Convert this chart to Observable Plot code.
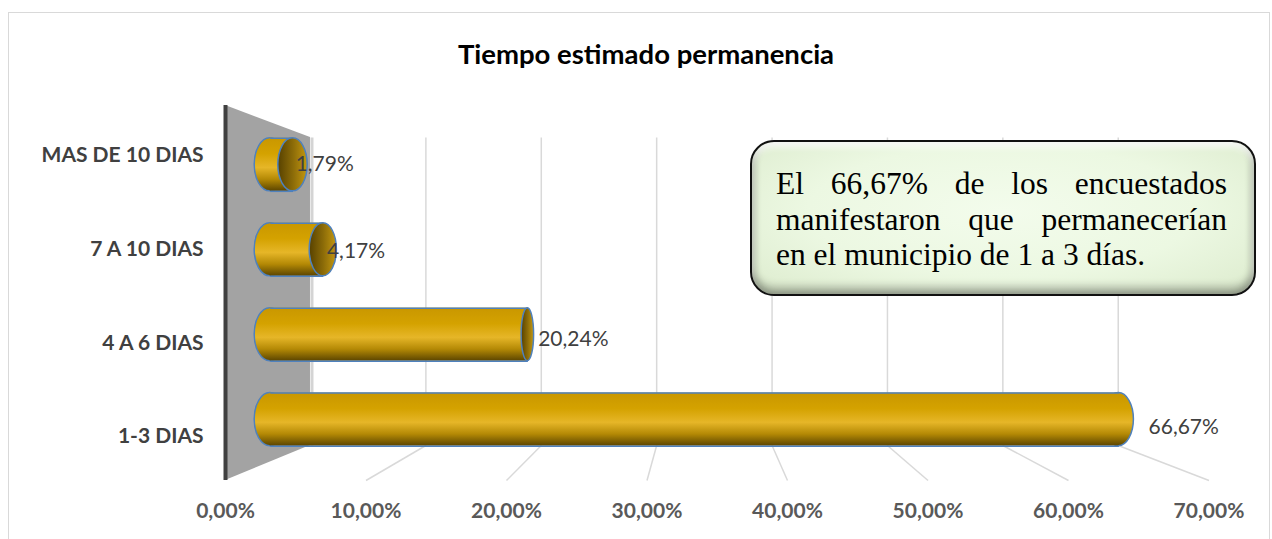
<!DOCTYPE html>
<html>
<head>
<meta charset="utf-8">
<script src="https://cdn.jsdelivr.net/npm/d3@7"></script>
<script src="https://cdn.jsdelivr.net/npm/@observablehq/plot@0.6"></script>
<style>
  body { margin: 0; background: #fff; }
  #wrap { position: relative; width: 1272px; height: 539px; overflow: hidden; font-family: Lato, "Open Sans", sans-serif; }
  #frame { position: absolute; left: 8px; top: 12px; width: 1262px; height: 560px; border: 1px solid #D9D9D9; box-sizing: border-box; }
  #chart { position: absolute; left: 0; top: 0; }
  #title { position: absolute; left: 0; top: 37px; width: 1292px; text-align: center; font-weight: bold; font-size: 27.5px; line-height: 34px; color: #000; }
  #note { position: absolute; left: 750px; top: 140px; width: 506px; height: 156px; box-sizing: border-box;
          border: 2.5px solid #111; border-radius: 24px;
          background: radial-gradient(ellipse at 50% 45%, #F3FCEC 0%, #ECF8E2 55%, #DCEBCD 100%);
          box-shadow: inset 0 -7px 9px rgba(0,0,0,0.28), inset 0 5px 6px rgba(255,255,255,0.9), inset 4px 0 6px rgba(0,0,0,0.12), inset -4px 0 6px rgba(0,0,0,0.12);
          padding: 24px 27px 0 24px;
          font-family: "Liberation Serif", "Times New Roman", serif; font-size: 31.5px; line-height: 35.5px; color: #000; }
  #note .j { text-align: justify; text-align-last: justify; }
  #chart text { font-family: Lato, "Open Sans", sans-serif; }
  g[aria-label="x-axis tick label"] text, g[aria-label="y-axis tick label"] text { font-weight: bold; }
</style>
</head>
<body>
<svg width="0" height="0" style="position:absolute">
  <defs>
    <linearGradient id="bodyGrad" x1="0" y1="0" x2="0" y2="1">
      <stop offset="0" stop-color="#C99700"/>
      <stop offset="0.3" stop-color="#D4A200"/>
      <stop offset="0.56" stop-color="#E6B628"/>
      <stop offset="0.78" stop-color="#B48905"/>
      <stop offset="1" stop-color="#5C4500"/>
    </linearGradient>
    <linearGradient id="capGrad" x1="0" y1="0" x2="1" y2="0">
      <stop offset="0" stop-color="#574100"/>
      <stop offset="0.5" stop-color="#8A6A08"/>
      <stop offset="1" stop-color="#C49810"/>
    </linearGradient>
  </defs>
</svg>
<div id="wrap">
  <div id="frame"></div>
  <div id="chart"></div>
  <div id="title">Tiempo estimado permanencia</div>
  <div id="note">
    <div class="j">El 66,67% de los encuestados</div>
    <div class="j">manifestaron que permanecerían</div>
    <div>en el municipio de 1 a 3 días.</div>
  </div>
</div>
<script>
// ---- data ----
const categories = ["1-3 DIAS", "4 A 6 DIAS", "7 A 10 DIAS", "MAS DE 10 DIAS"];
const values = [66.67, 20.24, 4.17, 1.79];
const valueLabels = ["66,67%", "20,24%", "4,17%", "1,79%"];
const xTicks = [0, 10, 20, 30, 40, 50, 60, 70];
const xTickLabels = ["0,00%", "10,00%", "20,00%", "30,00%", "40,00%", "50,00%", "60,00%", "70,00%"];

// ---- 3D perspective helpers (data units of the front plane) ----
const VX = 33.85, VY = 2.09;          // vanishing point
const S_BACK = 0.8213, S_BAR = 0.906, S_LABEL = 0.9356;
const px = (v, s) => VX + s * (v - VX);
const py = (v, s) => VY + s * (v - VY);
const HALF = 0.283;                   // half thickness of a cylinder (y units)
const CAP = 0.036;                    // ellipse width ratio of the cylinder ends
const Y_MAX = categories.length;

const rows = categories.map((c, i) => {
  const x0 = px(0, S_BAR), xe = px(values[i], S_BAR), yc = py(i + 0.5, S_BAR);
  return {cat: c, i, v: values[i], label: valueLabels[i], x0, xe, yc,
          endR: CAP * (VX - x0), capR: CAP * (VX - xe)};
});
const capped = rows.filter(d => d.capR > 0);
const convex = rows.filter(d => d.capR <= 0);
const gridTicks = xTicks.filter(t => t > 0);
const blue = "#4F81BD";

const plot = Plot.plot({
  width: 1272,
  height: 539,
  marginLeft: 225,
  marginRight: 63.5,
  marginTop: 105,
  marginBottom: 59,
  x: {domain: [0, 70]},
  y: {domain: [0, Y_MAX]},
  style: {background: "transparent", fontFamily: "Lato, 'Open Sans', sans-serif", fontSize: "21px", overflow: "visible"},
  marks: [
    // side wall
    Plot.areaY([{x: 0, y1: 0, y2: Y_MAX}, {x: px(0, S_BACK), y1: py(0, S_BACK), y2: py(Y_MAX, S_BACK)}],
      {x: "x", y1: "y1", y2: "y2", fill: "#A3A3A3", curve: "linear"}),
    Plot.link([0], {x1: t => px(t, S_BACK), x2: t => px(t, S_BACK), y1: () => py(0, S_BACK), y2: () => py(Y_MAX, S_BACK),
      stroke: "#D4D4D4", strokeWidth: 3, dx: 1.5}),
    // floor lines
    Plot.link(gridTicks, {x1: t => t, y1: () => 0, x2: t => px(t, S_BACK), y2: () => py(0, S_BACK),
      stroke: "#D9D9D9", strokeWidth: 1.5}),
    // back wall gridlines
    Plot.link(gridTicks, {x1: t => px(t, S_BACK), x2: t => px(t, S_BACK), y1: () => py(0, S_BACK), y2: () => py(Y_MAX, S_BACK),
      stroke: "#D9D9D9", strokeWidth: 1.5}),
    // front axis line
    Plot.ruleX([0], {y1: 0, y2: Y_MAX, stroke: "#404040", strokeWidth: 4}),
    // cylinder left ends
    Plot.rect(rows, {x1: d => d.x0 - d.endR, x2: d => d.x0 + d.endR, y1: d => d.yc - HALF, y2: d => d.yc + HALF,
      rx: 500, ry: 500, fill: "url(#bodyGrad)", stroke: blue, strokeWidth: 1.5}),
    // convex right ends
    Plot.rect(convex, {x1: d => d.xe + d.capR, x2: d => d.xe - d.capR, y1: d => d.yc - HALF, y2: d => d.yc + HALF,
      rx: 500, ry: 500, fill: "url(#bodyGrad)", stroke: blue, strokeWidth: 1.5}),
    // cylinder bodies
    Plot.rect(rows, {x1: "x0", x2: "xe", y1: d => d.yc - HALF, y2: d => d.yc + HALF, fill: "url(#bodyGrad)"}),
    Plot.link(rows, {x1: "x0", x2: "xe", y1: d => d.yc + HALF, y2: d => d.yc + HALF, stroke: blue, strokeWidth: 1.5}),
    Plot.link(rows, {x1: "x0", x2: "xe", y1: d => d.yc - HALF, y2: d => d.yc - HALF, stroke: blue, strokeWidth: 1.5}),
    // visible end caps
    Plot.rect(capped, {x1: d => d.xe - d.capR, x2: d => d.xe + d.capR, y1: d => d.yc - HALF, y2: d => d.yc + HALF,
      rx: 500, ry: 500, fill: "url(#capGrad)", stroke: blue, strokeWidth: 1.5}),
    // value labels
    Plot.text(rows, {x: d => d.xe + 0.0327 * (d.xe - VX), y: d => py(d.i + 0.5, S_LABEL), text: "label",
      dx: 16, dy: 3, textAnchor: "start", fontSize: 21, fill: "#404040"}),
    // axes
    Plot.axisX(xTicks, {tickFormat: d => xTickLabels[xTicks.indexOf(d)], tickSize: 0, tickPadding: 23,
      fontSize: 21, fontWeight: "bold", color: "#595959"}),
    Plot.axisY(categories.map((c, i) => i + 0.5), {tickFormat: d => categories[Math.floor(d)], tickSize: 0, tickPadding: 22,
      fontSize: 21, fontWeight: "bold", color: "#404040", dy: 3})
  ]
});
document.getElementById("chart").appendChild(plot);
</script>
</body>
</html>
